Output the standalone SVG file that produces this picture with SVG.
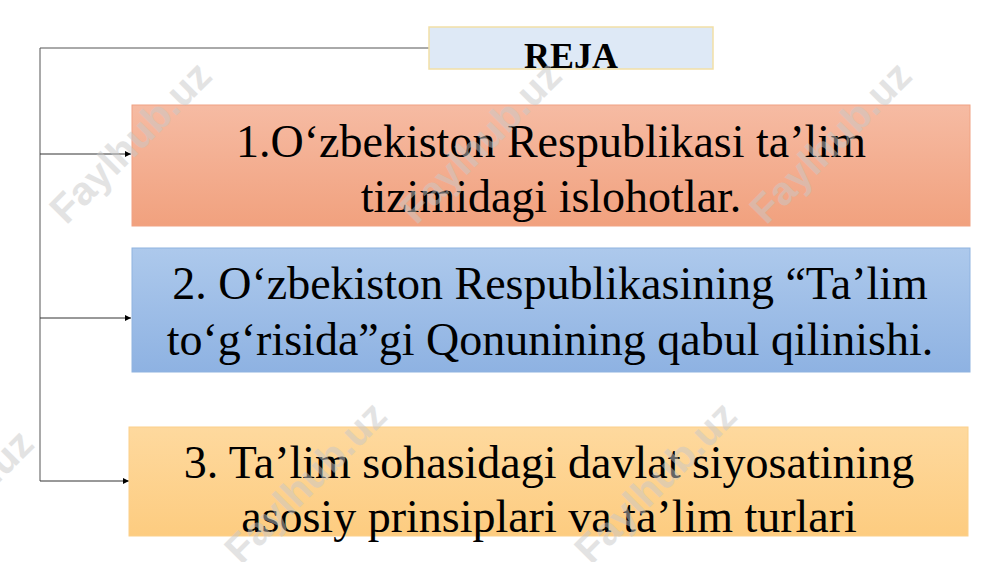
<svg xmlns="http://www.w3.org/2000/svg" width="1000" height="562" viewBox="0 0 1000 562">
<defs>
<linearGradient id="gOrange" x1="0" y1="0" x2="0" y2="1"><stop offset="0" stop-color="#f6bba3"/><stop offset="1" stop-color="#f1a17e"/></linearGradient>
<linearGradient id="gBlue" x1="0" y1="0" x2="0" y2="1"><stop offset="0" stop-color="#adc9ec"/><stop offset="1" stop-color="#8eb2e2"/></linearGradient>
<linearGradient id="gYellow" x1="0" y1="0" x2="0" y2="1"><stop offset="0" stop-color="#fed99e"/><stop offset="1" stop-color="#fdcc80"/></linearGradient>
<marker id="arr" viewBox="0 0 10 10" refX="10" refY="5" markerWidth="6" markerHeight="6" orient="auto" markerUnits="userSpaceOnUse"><path d="M0,0 L10,5 L0,10 z" fill="#000"/></marker>
</defs>
<style>
.t{font-family:"Liberation Serif","Times New Roman",serif;font-size:46px;fill:#000;text-anchor:middle}
.c{fill:none;stroke:#555;stroke-width:1}
.a{fill:none;stroke:#333;stroke-width:1;marker-end:url(#arr)}
.w{font-family:"Liberation Sans",Arial,sans-serif;font-size:40px;font-weight:bold;fill:#c8c8c8;opacity:0.5;text-anchor:middle}
</style>
<rect width="1000" height="562" fill="#fff"/>
<g id="connectors">
<path class="c" d="M429,48 H40 V481"/>
<path class="a" d="M40,154 H131"/>
<path class="a" d="M40,318 H131"/>
<path class="a" d="M40,481 H129"/>
</g>
<g id="reja">
<rect x="429" y="27" width="284" height="42" fill="#dee9f6" stroke="#f2dfa6" stroke-width="1.5"/>
<text x="571" y="68" style="font-family:'Liberation Serif','Times New Roman',serif;font-size:36px;font-weight:bold;text-anchor:middle">REJA</text>
</g>
<g id="item1">
<rect x="132" y="105" width="838" height="121" fill="url(#gOrange)" stroke="#f0a283" stroke-width="1"/>
<text class="t" x="551" y="157">1.O‘zbekiston Respublikasi ta’lim</text>
<text class="t" x="551" y="212">tizimidagi islohotlar.</text>
</g>
<g id="item2">
<rect x="132" y="248" width="838" height="124" fill="url(#gBlue)" stroke="#8fb3e0" stroke-width="1"/>
<text class="t" x="550" y="299">2. O‘zbekiston Respublikasining “Ta’lim</text>
<text class="t" x="550" y="355">to‘g‘risida”gi Qonunining qabul qilinishi.</text>
</g>
<g id="item3">
<rect x="129" y="427" width="839" height="109" fill="url(#gYellow)" stroke="#fbd08a" stroke-width="1"/>
<text class="t" x="549" y="478">3. Ta’lim sohasidagi davlat siyosatining</text>
<text class="t" x="549" y="532">asosiy prinsiplari va ta’lim turlari</text>
</g>
<g id="watermarks">
<text class="w" transform="translate(140,152) rotate(-45)">Faylhub.uz</text>
<text class="w" transform="translate(490,152) rotate(-45)">Faylhub.uz</text>
<text class="w" transform="translate(840,152) rotate(-45)">Faylhub.uz</text>
<text class="w" transform="translate(-38,520) rotate(-45)">Faylhub.uz</text>
<text class="w" transform="translate(315,492) rotate(-45)">Faylhub.uz</text>
<text class="w" transform="translate(665,492) rotate(-45)">Faylhub.uz</text>
</g>
</svg>
